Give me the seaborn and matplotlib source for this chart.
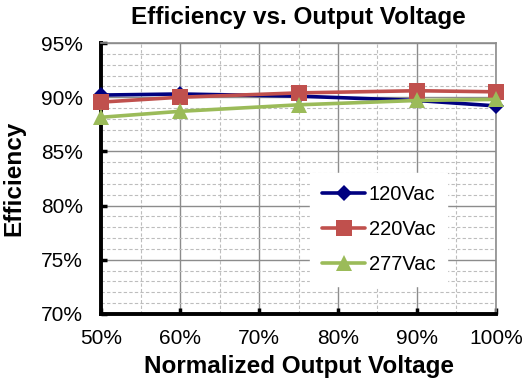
import pandas as pd
import matplotlib.pyplot as plt
import seaborn as sns
from matplotlib.ticker import MultipleLocator, FuncFormatter

# Dados
tensao = [50, 60, 75, 90, 100]
ef_120 = [90.2, 90.3, 90.1, 89.7, 89.2]
ef_220 = [89.55, 90.0, 90.4, 90.6, 90.5]
ef_277 = [88.15, 88.7, 89.3, 89.7, 89.8]
series = ['120Vac', '220Vac', '277Vac']

df = pd.DataFrame({
    'tensao': tensao * 3,
    'eficiencia': ef_120 + ef_220 + ef_277,
    'serie': [s for s in series for _ in tensao],
})

sns.set_style('white')
plt.rcParams['font.family'] = ['Liberation Sans', 'DejaVu Sans']
plt.rcParams['text.color'] = 'black'
plt.rcParams['axes.labelcolor'] = 'black'
plt.rcParams['xtick.color'] = 'black'
plt.rcParams['ytick.color'] = 'black'

fig, ax = plt.subplots(figsize=(5.27, 3.81), dpi=100)
fig.subplots_adjust(left=0.192, right=0.941, top=0.887, bottom=0.176)

cores = {'120Vac': '#000080', '220Vac': '#C0504D', '277Vac': '#9BBB59'}
marcadores = {'120Vac': 'D', '220Vac': 's', '277Vac': '^'}
tamanhos = {'120Vac': 8, '220Vac': 12, '277Vac': 12}

for s in series:
    d = df[df['serie'] == s]
    sns.lineplot(data=d, x='tensao', y='eficiencia', ax=ax, color=cores[s],
                 marker=marcadores[s], markersize=tamanhos[s], linewidth=2.6,
                 markeredgewidth=0, label=s, clip_on=False, zorder=3)

ax.set_xlim(50, 100)
ax.set_ylim(70, 95)
ax.xaxis.set_major_locator(MultipleLocator(10))
ax.xaxis.set_minor_locator(MultipleLocator(5))
ax.yaxis.set_major_locator(MultipleLocator(5))
ax.yaxis.set_minor_locator(MultipleLocator(1))
pct = FuncFormatter(lambda v, p: f'{v:.0f}%')
ax.xaxis.set_major_formatter(pct)
ax.yaxis.set_major_formatter(pct)

ax.grid(which='major', color='#8c8c8c', linewidth=1, linestyle='-')
ax.grid(which='minor', color='#bdbdbd', linewidth=0.8, linestyle=(0, (3, 2)))
ax.set_axisbelow(True)

for lado in ['left', 'bottom']:
    ax.spines[lado].set_color('black')
    ax.spines[lado].set_linewidth(2.8)
for lado in ['top', 'right']:
    ax.spines[lado].set_color('#8c8c8c')
    ax.spines[lado].set_linewidth(1.2)

ax.tick_params(which='major', direction='in', length=4, width=2.5, color='black',
               labelsize=15, labelcolor='black', left=True, bottom=True)
ax.tick_params(axis='y', pad=13)
ax.tick_params(axis='x', pad=11)
ax.tick_params(which='minor', length=0)

ax.set_title('Efficiency vs. Output Voltage', fontsize=17.5, fontweight='bold',
             pad=14, color='black')
ax.set_xlabel('Normalized Output Voltage', fontsize=17.5, fontweight='bold',
              labelpad=5, color='black')
ax.set_ylabel('Efficiency', fontsize=17.5, fontweight='bold', labelpad=11, color='black')

leg = ax.legend(loc='upper left', bbox_to_anchor=(0.53, 0.52), frameon=True,
                fontsize=14.5, handlelength=2.1, labelspacing=0.78,
                borderpad=0.6, handletextpad=0.2, borderaxespad=0, fancybox=False)
leg.get_frame().set_facecolor('white')
leg.get_frame().set_edgecolor('white')
leg.get_frame().set_alpha(1)
for t in leg.get_texts():
    t.set_color('black')

plt.savefig('out.png', dpi=100)
plt.close()
